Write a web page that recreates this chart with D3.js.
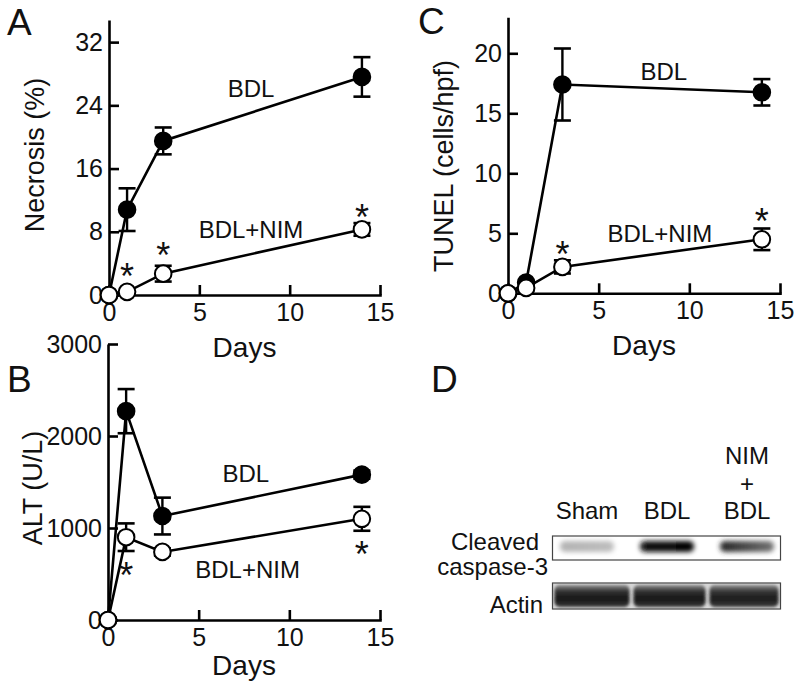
<!DOCTYPE html>
<html>
<head>
<meta charset="utf-8">
<script src="https://cdn.jsdelivr.net/npm/d3@7"></script>
<style>
  html, body { margin: 0; padding: 0; background: #fff; }
  svg { display: block; }
  text { font-family: "Liberation Sans", Arial, Helvetica, sans-serif; fill: #111; }
</style>
</head>
<body>
<svg id="chart" width="800" height="692"></svg>
<script>
// ---------------- DATA ----------------
const days = [0, 1, 3, 14];
const xTickValues = [0, 5, 10, 15];

// Panel A: Necrosis (%)
const necrosisBDL     = [0, 10.8, 19.5, 27.6];
const necrosisBDLErr  = [0, 2.7, 1.7, 2.5];
const necrosisNIM     = [0, 0.4, 2.7, 8.3];
const necrosisNIMErr  = [0, 0, 1.0, 0.8];
const necrosisTicks   = [0, 8, 16, 24, 32];
const necrosisStars   = [[1, 2.95], [3, 5.7], [14, 10.5]];

// Panel B: ALT (U/L)
const altBDL     = [0, 2270, 1130, 1580];
const altBDLErr  = [0, 240, 200, 45];
const altNIM     = [0, 900, 740, 1100];
const altNIMErr  = [0, 150, 40, 130];
const altTicks   = [0, 1000, 2000, 3000];
const altStars   = [[1, 543], [14, 772]];

// Panel C: TUNEL (cells/hpf)
const tunelBDL     = [0, 0.9, 17.4, 16.75];
const tunelBDLErr  = [0, 0, 3.0, 1.1];
const tunelNIM     = [0, 0.45, 2.2, 4.5];
const tunelNIMErr  = [0, 0, 0.55, 0.9];
const tunelTicks   = [0, 5, 10, 15, 20];
const tunelStars   = [[3, 3.7], [14, 6.4]];

// Panel D: western blot
const lanes = ["Sham", "BDL", "NIM+BDL"];
const laneLabels = [["Sham"], ["BDL"], ["NIM", "+", "BDL"]];
const cleavedIntensity = [[0.3, 0.26], [0.92, 1.0], [0.85, 0.55]]; // left/right band density
const actinIntensity = [1, 1, 0.97];

// ---------------- DRAW ----------------
const svg = d3.select("#chart");
const FONT_TICK = 25, FONT_TITLE = 27, FONT_ANN = 24;

function panel(cfg) {
  const g = svg.append("g");
  const x = d3.scaleLinear().domain([0, 15]).range([cfg.x0, cfg.x1]);
  const y = d3.scaleLinear().domain(cfg.yDomain).range([cfg.yB, cfg.yT]);

  // axes
  const ax = g.append("g").attr("transform", `translate(0,${cfg.yB})`)
    .call(d3.axisBottom(x).tickValues(xTickValues).tickSize(-10).tickPadding(8).tickSizeOuter(0));
  const ay = g.append("g").attr("transform", `translate(${cfg.x0},0)`)
    .call(d3.axisLeft(y).tickValues(cfg.yTicks).tickFormat(d3.format("d"))
      .tickSize(-10).tickPadding(6).tickSizeOuter(0));
  [ax, ay].forEach(a => {
    a.selectAll("path.domain").attr("stroke", "#000").attr("stroke-width", 2.6);
    a.selectAll(".tick line").attr("stroke", "#000").attr("stroke-width", 2.6);
    a.selectAll(".tick text").attr("font-size", FONT_TICK).attr("fill", "#111")
      .attr("font-family", '"Liberation Sans", Arial, sans-serif');
  });
  ax.select("path.domain").attr("stroke-linecap", "square");

  // titles
  g.append("text").attr("x", (cfg.x0 + cfg.x1) / 2).attr("y", cfg.daysY)
    .attr("text-anchor", "middle").attr("font-size", FONT_TITLE + 1).text("Days");
  g.append("text").attr("transform", `translate(${cfg.ylabX},${cfg.ylabY}) rotate(-90)`)
    .attr("text-anchor", "middle").attr("font-size", FONT_TITLE).text(cfg.ylabel);
  svg.append("text").attr("x", cfg.letterX).attr("y", cfg.letterY)
    .attr("font-size", 37).text(cfg.letter);

  // series
  cfg.series.forEach(s => {
    const pts = days.map((d, i) => ({ d, v: s.values[i], e: s.err[i] }));
    // error bars
    pts.filter(p => p.e > 0).forEach(p => {
      const xx = x(p.d), yt = y(p.v + p.e), yb = y(p.v - p.e);
      g.append("line").attr("x1", xx).attr("x2", xx).attr("y1", yt).attr("y2", yb)
        .attr("stroke", "#000").attr("stroke-width", 2.4);
      [yt, yb].forEach(yy => g.append("line").attr("x1", xx - 8.5).attr("x2", xx + 8.5)
        .attr("y1", yy).attr("y2", yy).attr("stroke", "#000").attr("stroke-width", 2.6));
    });
    g.append("path").datum(pts)
      .attr("d", d3.line().x(p => x(p.d)).y(p => y(p.v)))
      .attr("fill", "none").attr("stroke", "#000").attr("stroke-width", 2.6);
    g.selectAll(null).data(pts).join("circle")
      .attr("cx", p => x(p.d)).attr("cy", p => y(p.v)).attr("r", 8.3)
      .attr("fill", s.filled ? "#000" : "#fff").attr("stroke", "#000").attr("stroke-width", 2);
  });

  // annotations
  cfg.labels.forEach(l => g.append("text").attr("x", x(l[0])).attr("y", y(l[1]))
    .attr("text-anchor", "middle").attr("font-size", FONT_ANN).text(l[2]));
  cfg.stars.forEach(s => g.append("text").attr("x", x(s[0])).attr("y", y(s[1]))
    .attr("dy", "0.49em").attr("text-anchor", "middle").attr("font-size", 36).text("*"));
}

panel({
  x0: 109, x1: 380, yB: 295, yT: 20, yDomain: [0, 34.8], yTicks: necrosisTicks,
  series: [{ values: necrosisBDL, err: necrosisBDLErr, filled: true },
           { values: necrosisNIM, err: necrosisNIMErr, filled: false }],
  labels: [[7.86, 25.0, "BDL"], [7.86, 7.2, "BDL+NIM"]],
  stars: necrosisStars, ylabel: "Necrosis (%)", ylabX: 44, ylabY: 155, daysY: 357,
  letter: "A", letterX: 7, letterY: 35
});
panel({
  x0: 108, x1: 380, yB: 620, yT: 344, yDomain: [0, 3000], yTicks: altTicks,
  series: [{ values: altBDL, err: altBDLErr, filled: true },
           { values: altNIM, err: altNIMErr, filled: false }],
  labels: [[7.6, 1503, "BDL"], [7.7, 457, "BDL+NIM"]],
  stars: altStars, ylabel: "ALT (U/L)", ylabX: 42, ylabY: 488, daysY: 675,
  letter: "B", letterX: 7, letterY: 392
});
panel({
  x0: 508, x1: 780, yB: 293.3, yT: 17.3, yDomain: [0, 23], yTicks: tunelTicks,
  series: [{ values: tunelBDL, err: tunelBDLErr, filled: true },
           { values: tunelNIM, err: tunelNIMErr, filled: false }],
  labels: [[8.59, 17.8, "BDL"], [8.38, 4.28, "BDL+NIM"]],
  stars: tunelStars, ylabel: "TUNEL (cells/hpf)", ylabX: 453, ylabY: 166, daysY: 355,
  letter: "C", letterX: 418, letterY: 34
});

// ---------------- Panel D ----------------
const defs = svg.append("defs");
defs.append("filter").attr("id", "blur").attr("x", "-20%").attr("y", "-60%")
  .attr("width", "140%").attr("height", "220%")
  .append("feGaussianBlur").attr("stdDeviation", 2.4);
defs.append("filter").attr("id", "blur2").attr("x", "-10%").attr("y", "-30%")
  .attr("width", "120%").attr("height", "160%")
  .append("feGaussianBlur").attr("stdDeviation", 1.6);

svg.append("text").attr("x", 431).attr("y", 392).attr("font-size", 37).text("D");

const lx = d3.scalePoint().domain(lanes).range([587, 747]);
const gray = t => d3.interpolateRgb("#ffffff", "#000000")(t);

laneLabels.forEach((lines, i) => {
  const n = lines.length;
  lines.forEach((t, j) => svg.append("text").attr("x", lx(lanes[i]))
    .attr("y", 519 - (n - 1 - j) * 27.5).attr("text-anchor", "middle")
    .attr("font-size", 24).text(t));
});

// row labels
[["Cleaved", 539, 550], ["caspase-3", 548, 575], ["Actin", 543, 613]].forEach(r =>
  svg.append("text").attr("x", r[1]).attr("y", r[2]).attr("text-anchor", "end")
    .attr("font-size", 24).text(r[0]));

// cleaved caspase-3 box
const bandHalf = 29;
lanes.forEach((ln, i) => {
  const gid = "cg" + i;
  const lg = defs.append("linearGradient").attr("id", gid);
  lg.append("stop").attr("offset", "0%").attr("stop-color", gray(cleavedIntensity[i][0]));
  lg.append("stop").attr("offset", "100%").attr("stop-color", gray(cleavedIntensity[i][1]));
  svg.append("rect").attr("x", lx(ln) - bandHalf + 2).attr("width", 2 * bandHalf - 4)
    .attr("y", 541).attr("height", 11).attr("rx", 5)
    .attr("fill", `url(#${gid})`).attr("filter", "url(#blur)");
});
svg.append("rect").attr("x", 552.5).attr("y", 536).attr("width", 228).attr("height", 24)
  .attr("fill", "none").attr("stroke", "#444").attr("stroke-width", 1.2);

// actin box
const ag = defs.append("linearGradient").attr("id", "actinGrad").attr("x1", 0).attr("x2", 0).attr("y1", 0).attr("y2", 1);
ag.append("stop").attr("offset", "0%").attr("stop-color", "#8c8c8c");
ag.append("stop").attr("offset", "30%").attr("stop-color", "#2e2e2e");
ag.append("stop").attr("offset", "65%").attr("stop-color", "#161616");
ag.append("stop").attr("offset", "100%").attr("stop-color", "#3c3c3c");
svg.append("rect").attr("x", 553).attr("y", 583.5).attr("width", 227).attr("height", 25).attr("fill", "#d8d8d8");
const actinW = [78, 75, 72], actinX = [553, 632, 708];
lanes.forEach((ln, i) => {
  svg.append("rect").attr("x", actinX[i] + 1.5).attr("width", actinW[i] - 3)
    .attr("y", 585).attr("height", 22).attr("rx", 5)
    .attr("fill", "url(#actinGrad)").attr("opacity", actinIntensity[i])
    .attr("filter", "url(#blur2)");
});
svg.append("rect").attr("x", 552.5).attr("y", 583).attr("width", 228).attr("height", 26)
  .attr("fill", "none").attr("stroke", "#444").attr("stroke-width", 1.2);
</script>
</body>
</html>
